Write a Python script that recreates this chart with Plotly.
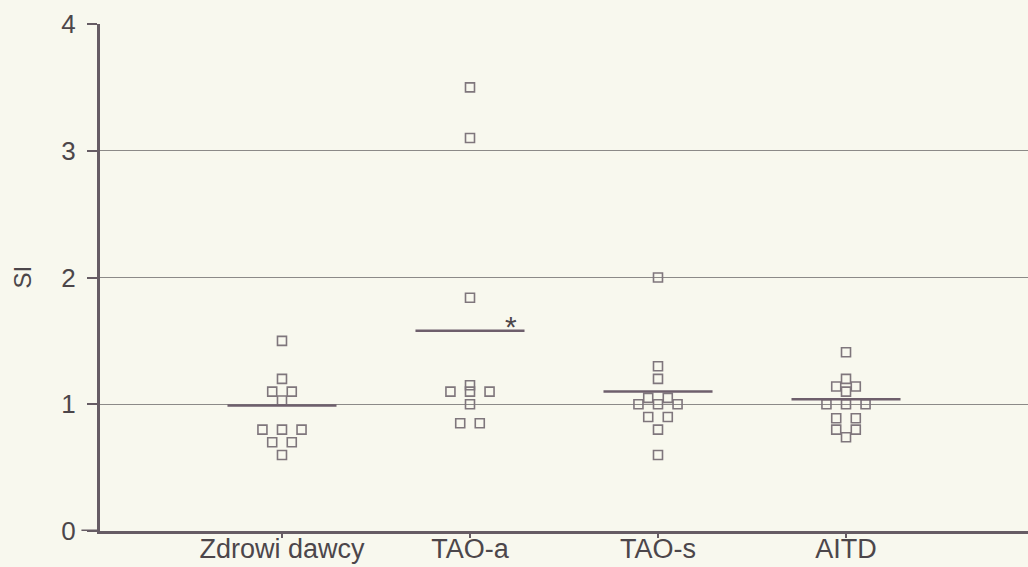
import plotly.graph_objects as go
from collections import Counter

categories = ["Zdrowi dawcy", "TAO-a", "TAO-s", "AITD"]
zdrowi = [1.5, 1.2, 1.1, 1.1, 1.03, 0.8, 0.8, 0.8, 0.7, 0.7, 0.6]
tao_a = [3.5, 3.1, 1.84, 1.15, 1.1, 1.1, 1.1, 1.0, 0.85, 0.85]
tao_s = [2.0, 1.3, 1.2, 1.05, 1.05, 1.0, 1.0, 1.0, 0.9, 0.9, 0.8, 0.6]
aitd = [1.41, 1.2, 1.14, 1.14, 1.1, 1.0, 1.0, 1.0, 0.89, 0.89, 0.8, 0.8, 0.74]
group_lines = [0.99, 1.58, 1.1, 1.04]
y_ticks = [0, 1, 2, 3, 4]

groups = [zdrowi, tao_a, tao_s, aitd]

BG = "#f8f8ee"
AXIS = "#665c64"
TEXT = "#4c464a"
MARK = "#7f767c"
GRID = "#8c8a88"
STEP = 0.104
HALF = 0.29

fig = go.Figure()

for gi, vals in enumerate(groups):
    pos = gi + 1
    counts = Counter(vals)
    seen = Counter()
    xs = []
    for v in vals:
        n = counts[v]
        i = seen[v]
        seen[v] += 1
        xs.append(pos + (i - (n - 1) / 2) * STEP)
    fig.add_trace(go.Scatter(
        x=xs, y=vals, mode="markers",
        marker=dict(symbol="square-open", size=9, color=MARK, line=dict(width=1.6, color=MARK)),
        showlegend=False, hoverinfo="y"))
    fig.add_trace(go.Scatter(
        x=[pos - HALF, pos + HALF], y=[group_lines[gi], group_lines[gi]], mode="lines",
        line=dict(color="#6e5f6c", width=2.5), showlegend=False, hoverinfo="skip"))

fig.add_annotation(x=2.22, y=group_lines[1], yshift=4, text="*", showarrow=False,
                   yanchor="middle", font=dict(size=30, color=TEXT, family="Liberation Sans"))

# y-axis title placed to the left of the tick labels
fig.add_annotation(xref="paper", yref="y", x=0, y=2, xshift=-78, text="SI", textangle=-90,
                   showarrow=False, xanchor="center", yanchor="middle",
                   font=dict(size=24, color=TEXT, family="Liberation Sans"))

# extension of the baseline to the left of the y axis
fig.add_shape(type="line", xref="paper", yref="y", x0=-0.02, x1=0, y0=0, y1=0,
              line=dict(color=AXIS, width=3))

fig.update_layout(
    width=1028, height=567,
    margin=dict(l=100, r=0, t=24, b=36),
    paper_bgcolor=BG, plot_bgcolor=BG,
    font=dict(family="Liberation Sans, Arial, sans-serif", color=TEXT),
    xaxis=dict(range=[0.032, 4.968], tickvals=[1, 2, 3, 4], ticktext=categories,
               automargin=False,
               showgrid=False, zeroline=False, showline=True, linecolor=AXIS, linewidth=3,
               ticks="outside", ticklen=4, tickwidth=2, tickcolor=AXIS,
               ticklabelstandoff=-12,
               tickfont=dict(size=27, color=TEXT)),
    yaxis=dict(range=[0, 4], tickvals=y_ticks, showgrid=True, gridcolor=GRID, gridwidth=1,
               automargin=False,
               zeroline=False, showline=True, linecolor=AXIS, linewidth=3,
               ticks="outside", ticklen=10, tickwidth=2, tickcolor=AXIS,
               ticklabelstandoff=6,
               tickfont=dict(size=26, color=TEXT)),
)

fig.write_html(
    "out.html",
    config={"displayModeBar": False},
    post_script="document.body.style.margin='0';document.body.style.background='%s';" % BG,
)
